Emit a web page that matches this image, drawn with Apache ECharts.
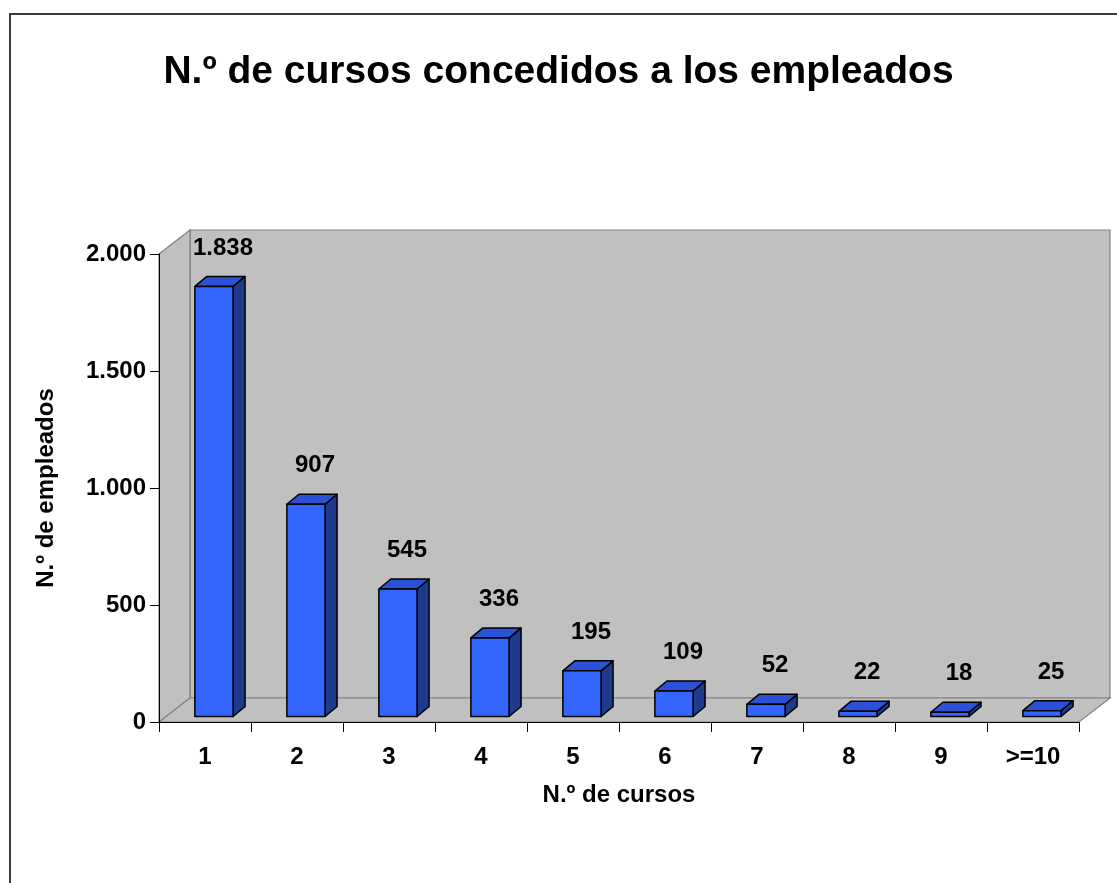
<!DOCTYPE html>
<html>
<head>
<meta charset="utf-8">
<script src="https://cdn.jsdelivr.net/npm/echarts@6/dist/echarts.min.js"></script>
<style>
html,body{margin:0;padding:0;background:#fff;}
#chart{width:1117px;height:883px;}
</style>
</head>
<body>
<div id="chart"></div>
<script>
// ---- data ----
const categories = ['1', '2', '3', '4', '5', '6', '7', '8', '9', '>=10'];
const values = [1838, 907, 545, 336, 195, 109, 52, 22, 18, 25];
const yTicks = { min: 0, max: 2000, interval: 500 };
const titleText = 'N.º de cursos concedidos a los empleados';
const xName = 'N.º de cursos';
const yName = 'N.º de empleados';

function fmt(v) {
  return String(v).replace(/\B(?=(\d{3})+(?!\d))/g, '.');
}

const FONT = 'Liberation Sans, Arial, sans-serif';
const DEPTH = { dx: 31, dy: -24 };

const chart = echarts.init(document.getElementById('chart'), null, { renderer: 'canvas' });

const option = {
  backgroundColor: '#ffffff',
  animation: false,
  title: {
    text: titleText,
    left: 'center',
    top: 48,
    textStyle: { fontFamily: FONT, fontSize: 39, fontWeight: 'bold', color: '#000' }
  },
  graphic: [{
    type: 'rect',
    shape: { x: 10, y: 14, width: 1200, height: 1000 },
    style: { fill: 'none', stroke: '#3a3a3a', lineWidth: 2 },
    silent: true,
    z: 100
  }],
  grid: { left: 159, right: 38, top: 254, bottom: 161 },
  xAxis: {
    type: 'category',
    data: categories,
    boundaryGap: true,
    z: 10,
    name: xName,
    nameLocation: 'middle',
    nameGap: 61,
    nameTextStyle: { fontFamily: FONT, fontSize: 24, fontWeight: 'bold', color: '#000' },
    axisLine: { lineStyle: { color: '#000', width: 1 } },
    axisTick: { show: true, length: 10, lineStyle: { color: '#000' } },
    axisLabel: { fontFamily: FONT, fontSize: 24, fontWeight: 'bold', color: '#000', margin: 23 },
    splitLine: { show: false }
  },
  yAxis: {
    type: 'value',
    min: yTicks.min,
    max: yTicks.max,
    interval: yTicks.interval,
    z: 10,
    name: yName,
    nameLocation: 'middle',
    nameRotate: 90,
    nameGap: 101,
    nameTextStyle: { fontFamily: FONT, fontSize: 24, fontWeight: 'bold', color: '#000' },
    axisLine: { show: true, lineStyle: { color: '#000', width: 1 } },
    axisTick: { show: true, length: 9, lineStyle: { color: '#000' } },
    axisLabel: { fontFamily: FONT, fontSize: 24, fontWeight: 'bold', color: '#000', margin: 13, formatter: fmt },
    splitLine: { show: false }
  },
  series: [
    {
      // walls and floor
      type: 'custom',
      z: 1,
      silent: true,
      data: [[0]],
      renderItem: function (params, api) {
        const cs = params.coordSys;
        const x0 = cs.x, y0 = cs.y, x1 = cs.x + cs.width, y1 = cs.y + cs.height;
        const dx = DEPTH.dx, dy = DEPTH.dy;
        const st = { fill: '#C0C0C0', stroke: '#808080', lineWidth: 1.2 };
        return {
          type: 'group',
          children: [
            { type: 'polygon', shape: { points: [[x0 + dx, y0 + dy], [x1 + dx, y0 + dy], [x1 + dx, y1 + dy], [x0 + dx, y1 + dy]] }, style: st },
            { type: 'polygon', shape: { points: [[x0, y0], [x0 + dx, y0 + dy], [x0 + dx, y1 + dy], [x0, y1]] }, style: st },
            { type: 'polygon', shape: { points: [[x0, y1], [x0 + dx, y1 + dy], [x1 + dx, y1 + dy], [x1, y1]] }, style: st }
          ]
        };
      }
    },
    {
      type: 'custom',
      z: 3,
      data: values.map(function (v, i) { return [i, v]; }),
      renderItem: function (params, api) {
        const i = api.value(0), v = api.value(1);
        const base = api.coord([i, 0]);
        const top = api.coord([i, v]);
        const bw = api.size([1, 0])[0];
        const cx = base[0];
        const fx0 = cx - 0.11 * bw;
        const fx1 = cx + 0.305 * bw;
        const by = base[1] - 5.5;
        const ty = top[1] - 5.5;
        const sdx = 12, sdy = -10;
        const stroke = { stroke: '#000', lineWidth: 1.5, lineJoin: 'round' };
        return {
          type: 'group',
          children: [
            { type: 'polygon', shape: { points: [[fx1, by], [fx1 + sdx, by + sdy], [fx1 + sdx, ty + sdy], [fx1, ty]] },
              style: Object.assign({ fill: '#1F3A8C' }, stroke) },
            { type: 'polygon', shape: { points: [[fx0, ty], [fx0 + sdx, ty + sdy], [fx1 + sdx, ty + sdy], [fx1, ty]] },
              style: Object.assign({ fill: '#2B52D6' }, stroke) },
            { type: 'rect', shape: { x: fx0, y: ty, width: fx1 - fx0, height: by - ty },
              style: Object.assign({ fill: '#3366FF' }, stroke) },
            { type: 'text', x: cx + 18, y: top[1] - 44,
              style: { text: fmt(v), fill: '#000', font: 'bold 24px ' + FONT, textAlign: 'center', textVerticalAlign: 'middle' } }
          ]
        };
      }
    }
  ]
};

chart.setOption(option);
</script>
</body>
</html>
